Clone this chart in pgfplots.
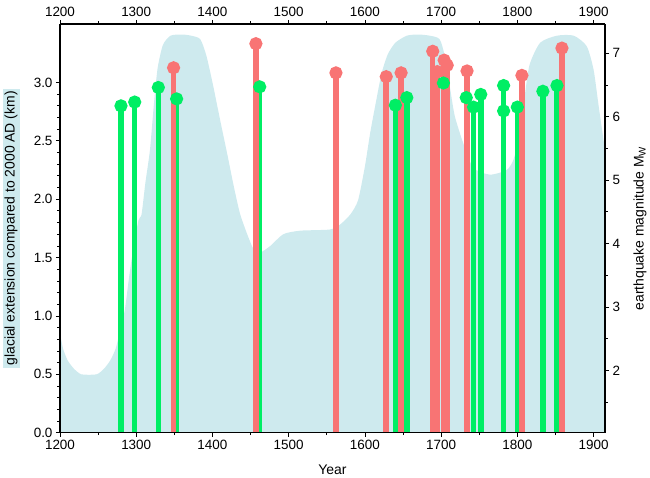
\documentclass[border=0pt]{standalone}
\usepackage{fontspec}
\setmainfont{Liberation Sans}
\usepackage{pgfplots}
\pgfplotsset{compat=1.18}
\definecolor{glac}{RGB}{206,234,238}
\definecolor{eqred}{RGB}{248,116,116}
\definecolor{eqgreen}{RGB}{0,238,100}
\begin{document}
\begin{tikzpicture}
\pgfplotsset{every axis/.append style={
  scale only axis, width=545bp, height=408.7bp,
  xmin=1200, xmax=1915,
  font=\fontsize{14}{16}\selectfont,
  tick label style={font=\fontsize{13.5}{15}\selectfont},
  /pgf/number format/assume math mode=true,
  /pgf/number format/1000 sep={},
  tick align=outside,
  major tick length=4bp, minor tick length=2.5bp,
  every tick/.style={black, line width=0.7bp},
  axis line style={black, line width=1.3bp},
  xtick={1200,1300,...,1900},
  minor x tick num=1,
}}
% glacier extent
\begin{axis}[hide axis, ymin=0, ymax=3.5]
\addplot[fill=glac, draw=none, smooth, tension=0.4] coordinates {
(1200,0.85) (1204,0.72) (1210,0.62) (1218,0.55) (1228,0.50) (1248,0.50)
(1258,0.55) (1266,0.62) (1273,0.72) (1279,0.88) (1285,1.05) (1291,1.35)
(1296,1.57) (1303,1.82) (1307,1.87) (1312,2.14) (1318,2.42) (1323,2.80)
(1328,3.12) (1335,3.32) (1345,3.40) (1360,3.41) (1372,3.40) (1384,3.37)
(1392,3.23) (1401,2.97) (1410,2.68) (1419,2.40) (1428,2.11) (1436,1.88)
(1445,1.71) (1454,1.57) (1462,1.54) (1476,1.60) (1493,1.70) (1515,1.73)
(1554,1.74) (1567,1.78) (1581,1.87) (1591,1.99) (1600,2.28) (1607,2.57)
(1615,2.85) (1622,3.08) (1630,3.24) (1640,3.34) (1655,3.40) (1670,3.41)
(1685,3.40) (1698,3.37) (1705,3.22) (1712,2.94) (1718,2.71) (1729,2.48)
(1742,2.27) (1764,2.21) (1786,2.25) (1795,2.34) (1803,2.55) (1809,2.85)
(1816,3.15) (1830,3.34) (1852,3.40) (1874,3.40) (1891,3.31) (1900,3.11)
(1906,2.83) (1911,2.60) (1915,2.42)
} \closedcycle;
\end{axis}
% earthquakes
\begin{axis}[hide axis, ymin=1.02, ymax=7.46]
\addplot[ycomb, eqgreen, line width=5.5bp, mark=*, mark size=3.7bp,
  mark options={fill=eqgreen, draw=none}] coordinates {
(1280,6.17) (1298,6.23) (1329,6.46) (1353,6.28) (1462,6.47) (1640,6.18)
(1655,6.30) (1703,6.53) (1733,6.30) (1742.5,6.15) (1752,6.35) (1782,6.49)
(1782,6.09) (1800,6.15) (1833.5,6.40) (1852,6.49)
};
\addplot[ycomb, eqred, line width=5.5bp, mark=*, mark size=3.7bp,
  mark options={fill=eqred, draw=none}] coordinates {
(1349,6.77) (1457,7.15) (1562,6.69) (1628,6.63) (1647.5,6.69) (1689,7.03)
(1695,6.71) (1704,6.89) (1708,6.81) (1734,6.72) (1806,6.65) (1858.5,7.08)
};
\end{axis}
% left / bottom axes
\begin{axis}[
  axis x line*=bottom, axis y line*=left,
  ymin=0, ymax=3.5,
  ytick={0,0.5,...,3.0},
  minor y tick num=4,
  yticklabel style={/pgf/number format/.cd, fixed, fixed zerofill, precision=1},
  xlabel={Year},
  ylabel={glacial extension compared to 2000 AD (km)},
  ylabel style={fill=glac, at={(axis description cs:-0.0899,0.5)}, anchor=center, inner sep=2bp},
  xlabel style={at={(axis description cs:0.5,-0.0913)}, anchor=center},
]
\end{axis}
% right / top axes
\begin{axis}[
  name=ax,
  axis x line*=top, axis y line*=right,
  ymin=1.02, ymax=7.46,
  ytick={2,3,4,5,6,7},
  minor ytick={1.5,2.5,3.5,4.5,5.5,6.5},
  ylabel={earthquake magnitude M\textsubscript{W}},
  ylabel style={at={(axis description cs:1.0642,0.5)}, anchor=center, rotate=0},
]
\end{axis}
\pgfresetboundingbox
\path ([shift={(-60bp,-45.3bp)}]ax.south west) rectangle ([shift={(45bp,24bp)}]ax.north east);
\end{tikzpicture}
\end{document}
